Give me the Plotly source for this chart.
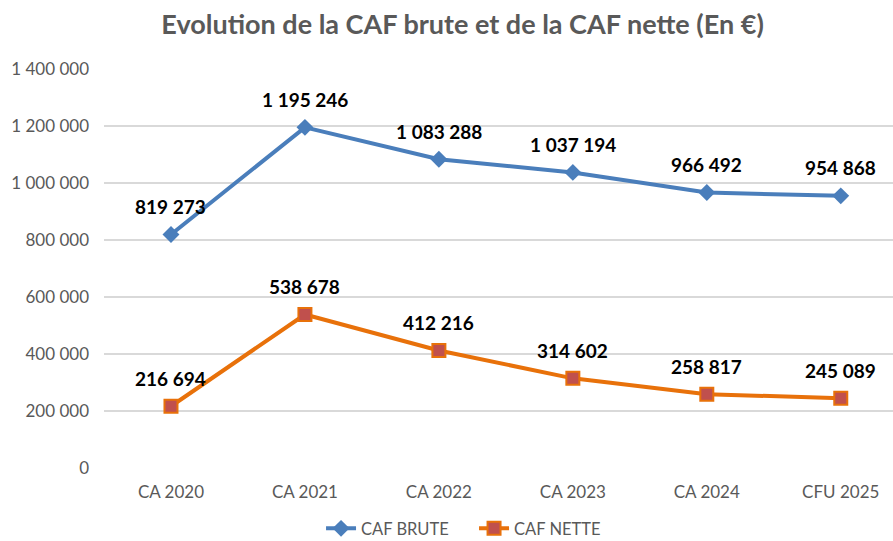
import plotly.graph_objects as go

categories = ["CA 2020", "CA 2021", "CA 2022", "CA 2023", "CA 2024", "CFU 2025"]
caf_brute = [819273, 1195246, 1083288, 1037194, 966492, 954868]
caf_nette = [216694, 538678, 412216, 314602, 258817, 245089]
y_ticks = [0, 200000, 400000, 600000, 800000, 1000000, 1200000, 1400000]

BLUE = "#4A7EBB"
ORANGE = "#E8710A"
RED = "#C0504D"
FONT = "Lato, Open Sans, sans-serif"

def fmt(v):
    return f"{v:,}".replace(",", " ")

fig = go.Figure()
fig.add_trace(go.Scatter(
    x=categories, y=caf_brute, name="CAF BRUTE", mode="lines+markers",
    line=dict(color=BLUE, width=4),
    marker=dict(symbol="diamond", size=13, color=BLUE),
))
fig.add_trace(go.Scatter(
    x=categories, y=caf_nette, name="CAF NETTE", mode="lines+markers",
    line=dict(color=ORANGE, width=4),
    marker=dict(symbol="square", size=13, color=RED, line=dict(color=ORANGE, width=2)),
))

for series in (caf_brute, caf_nette):
    for c, v in zip(categories, series):
        fig.add_annotation(x=c, y=v, text=f"<b>{fmt(v)}</b>", showarrow=False,
                           yshift=28, font=dict(family=FONT, size=19, color="#000000"))

fig.update_layout(
    width=893, height=541,
    paper_bgcolor="white", plot_bgcolor="white",
    margin=dict(l=104, r=0, t=69, b=73, autoexpand=False),
    title=dict(text="<b>Evolution de la CAF brute et de la CAF nette (En €)</b>",
               x=0.518, xanchor="center", y=0.954, yanchor="middle",
               font=dict(family=FONT, size=27, color="#595959")),
    font=dict(family=FONT, size=17, color="#595959"),
    showlegend=True,
    legend=dict(orientation="h", x=0.469, xanchor="center", y=-0.152, yanchor="middle",
                font=dict(size=16.5, color="#595959"), itemwidth=30, entrywidth=108),
    xaxis=dict(type="category", range=[-0.5, 5.39], showgrid=False, zeroline=False,
               showline=False, ticks="", automargin=False, ticklabelstandoff=12,
               tickfont=dict(size=17, color="#595959")),
    yaxis=dict(range=[0, 1400000], tickvals=y_ticks, ticktext=[fmt(t) for t in y_ticks],
               showgrid=True, gridcolor="#D9D9D9",
               gridwidth=1.5, zeroline=False, showline=False, ticks="", automargin=False,
               tickfont=dict(size=17, color="#595959"), ticklabelstandoff=14),
)

fig.write_html("out.html", config={"displayModeBar": False},
               post_script="document.body.style.margin='0';")
